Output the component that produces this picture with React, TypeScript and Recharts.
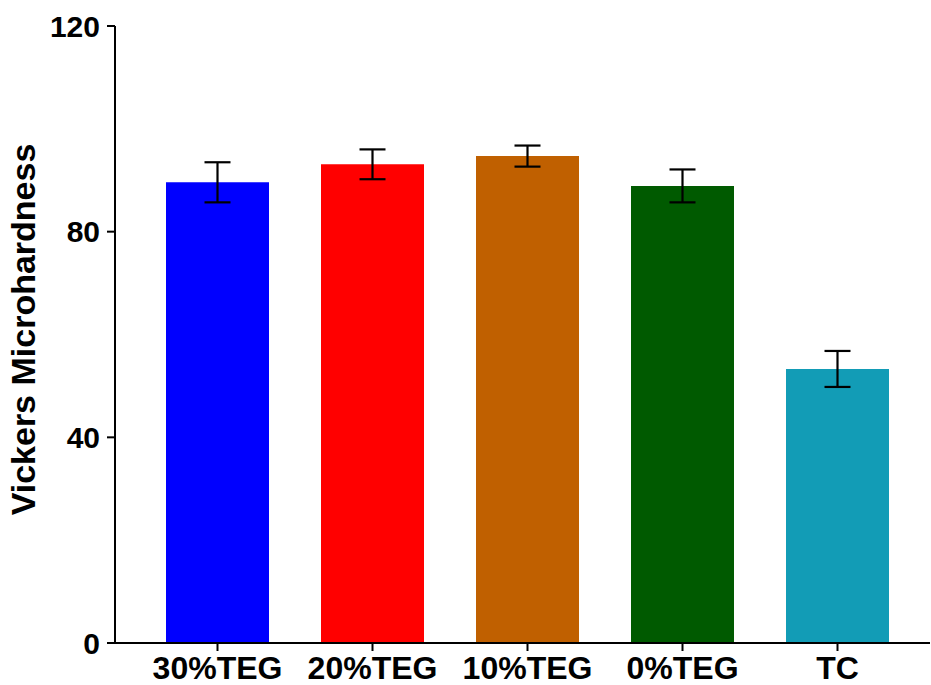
import React from "react";
import { BarChart, Bar, XAxis, YAxis, ErrorBar, Cell, Label } from "recharts";

const groups = ["30%TEG", "20%TEG", "10%TEG", "0%TEG", "TC"];
const hardness = [89.6, 93.1, 94.7, 88.9, 53.3];
const sd = [3.9, 2.9, 2.05, 3.2, 3.5];
const barColors = ["#0000FF", "#FF0000", "#C06000", "#005A00", "#129CB6"];
const yTicks = [0, 40, 80, 120];

const data = groups.map((name, i) => ({ name, value: hardness[i], err: sd[i] }));

const FONT = '"Liberation Sans", Arial, sans-serif';

function YTitle({ viewBox }: any) {
  const cy = viewBox.y + viewBox.height / 2 - 5;
  return (
    <text
      x={23}
      y={cy}
      transform={`rotate(-90, 23, ${cy})`}
      textAnchor="middle"
      dominantBaseline="central"
      fontFamily={FONT}
      fontWeight="bold"
      fontSize={34}
      fill="#000"
    >
      Vickers Microhardness
    </text>
  );
}

export default function App() {
  return (
    <div style={{ position: "absolute", left: 0, top: 0, background: "#fff" }}>
      <BarChart
        width={931}
        height={685}
        data={data}
        margin={{ top: 26, right: 1, bottom: 0, left: 0 }}
      >
        <XAxis
          dataKey="name"
          height={42}
          padding={{ left: 25, right: 15 }}
          axisLine={{ stroke: "#000", strokeWidth: 2 }}
          tickLine={{ stroke: "#000", strokeWidth: 2 }}
          tickSize={8}
          tickMargin={5}
          interval={0}
          tick={{ fill: "#000", fontSize: 32, fontWeight: "bold", fontFamily: FONT }}
        />
        <YAxis
          width={115}
          domain={[0, 120]}
          ticks={yTicks}
          axisLine={{ stroke: "#000", strokeWidth: 2 }}
          tickLine={{ stroke: "#000", strokeWidth: 2 }}
          tickSize={8}
          tickMargin={7}
          tick={{ fill: "#000", fontSize: 30, fontWeight: "bold", fontFamily: FONT }}
        >
          <Label content={<YTitle />} />
        </YAxis>
        <Bar dataKey="value" barSize={103} isAnimationActive={false}>
          {data.map((d, i) => (
            <Cell key={d.name} fill={barColors[i]} />
          ))}
          <ErrorBar dataKey="err" width={13} stroke="#000" strokeWidth={2.2} />
        </Bar>
      </BarChart>
    </div>
  );
}
